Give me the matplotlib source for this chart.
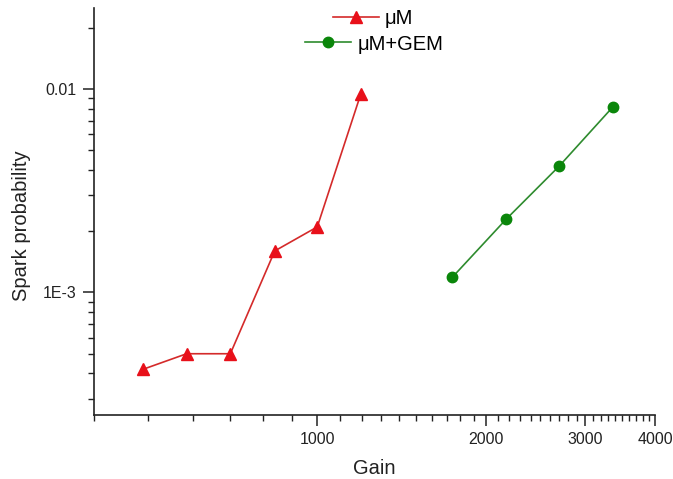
import numpy as np
import matplotlib
matplotlib.use("Agg")
import matplotlib.pyplot as plt
from matplotlib.ticker import FixedLocator, FixedFormatter, NullFormatter

# Spark probability vs. gain
gain_um = [490, 585, 700, 840, 1000, 1195]
spark_um = [4.2e-4, 5.0e-4, 5.0e-4, 1.6e-3, 2.1e-3, 9.4e-3]

gain_gem = [1742, 2171, 2700, 3363]
spark_gem = [1.19e-3, 2.29e-3, 4.18e-3, 8.15e-3]

x_major = [1000, 2000, 3000, 4000]
x_major_labels = ["1000", "2000", "3000", "4000"]
y_major = [1e-3, 1e-2]
y_major_labels = ["1E-3", "0.01"]

plt.rcParams["font.family"] = ["Liberation Sans", "DejaVu Sans"]

W, H = 673, 479
fig = plt.figure(figsize=(W / 100, H / 100), dpi=100)
ax = fig.add_axes([94 / W, 1 - 415 / H, (655 - 94) / W, (415 - 8) / H])

red_line = "#d42a2a"
red_mark = "#e8101a"
green_line = "#2e8b2e"
green_mark = "#0a860a"

l1, = ax.plot(gain_um, spark_um, color=red_line, lw=1.2, marker="^",
              markersize=9, markerfacecolor=red_mark, markeredgecolor=red_mark,
              label="μM")
l2, = ax.plot(gain_gem, spark_gem, color=green_line, lw=1.2, marker="o",
              markersize=7.5, markerfacecolor=green_mark, markeredgecolor=green_mark,
              label="μM+GEM")

ax.set_xscale("log")
ax.set_yscale("log")
ax.set_xlim(400, 4000)
ax.set_ylim(2.5e-4, 0.025)

ax.xaxis.set_major_locator(FixedLocator(x_major))
ax.xaxis.set_major_formatter(FixedFormatter(x_major_labels))
x_minor = [v for v in range(400, 4001, 100) if v not in x_major]
ax.xaxis.set_minor_locator(FixedLocator(x_minor))
ax.xaxis.set_minor_formatter(NullFormatter())

ax.yaxis.set_major_locator(FixedLocator(y_major))
ax.yaxis.set_major_formatter(FixedFormatter(y_major_labels))
y_minor = [m * d for d in (1e-4, 1e-3, 1e-2) for m in range(2, 10)
           if 2.5e-4 <= m * d <= 0.025]
ax.yaxis.set_minor_locator(FixedLocator(y_minor))
ax.yaxis.set_minor_formatter(NullFormatter())

for side in ("top", "right"):
    ax.spines[side].set_visible(False)
for side in ("left", "bottom"):
    ax.spines[side].set_linewidth(1.2)
    ax.spines[side].set_color("#222222")

ax.tick_params(which="major", direction="out", length=8, width=1.1,
               labelsize=11.5, colors="#222222", pad=4.5)
ax.tick_params(which="minor", direction="out", length=4, width=1.0,
               colors="#222222")

# Axis titles
fig.text(374 / W, 4.5 / H, "Gain", fontsize=14.5, color="#222222",
         ha="center", va="baseline")
fig.text(22 / W, 1 - 226 / H, "Spark probability", fontsize=14.5,
         color="#222222", ha="center", va="center", rotation=90)

leg_kw = dict(loc="center", frameon=False, fontsize=14.5, handlelength=2.3,
              handletextpad=0.3, borderaxespad=0, borderpad=0, numpoints=1)
leg1 = ax.legend(handles=[l1], bbox_to_anchor=(373 / W, 1 - 19 / H),
                 bbox_transform=fig.transFigure, **leg_kw)
ax.add_artist(leg1)
ax.legend(handles=[l2], bbox_to_anchor=(374 / W, 1 - 44 / H),
          bbox_transform=fig.transFigure, **leg_kw)

fig.savefig("out.png", dpi=100)
